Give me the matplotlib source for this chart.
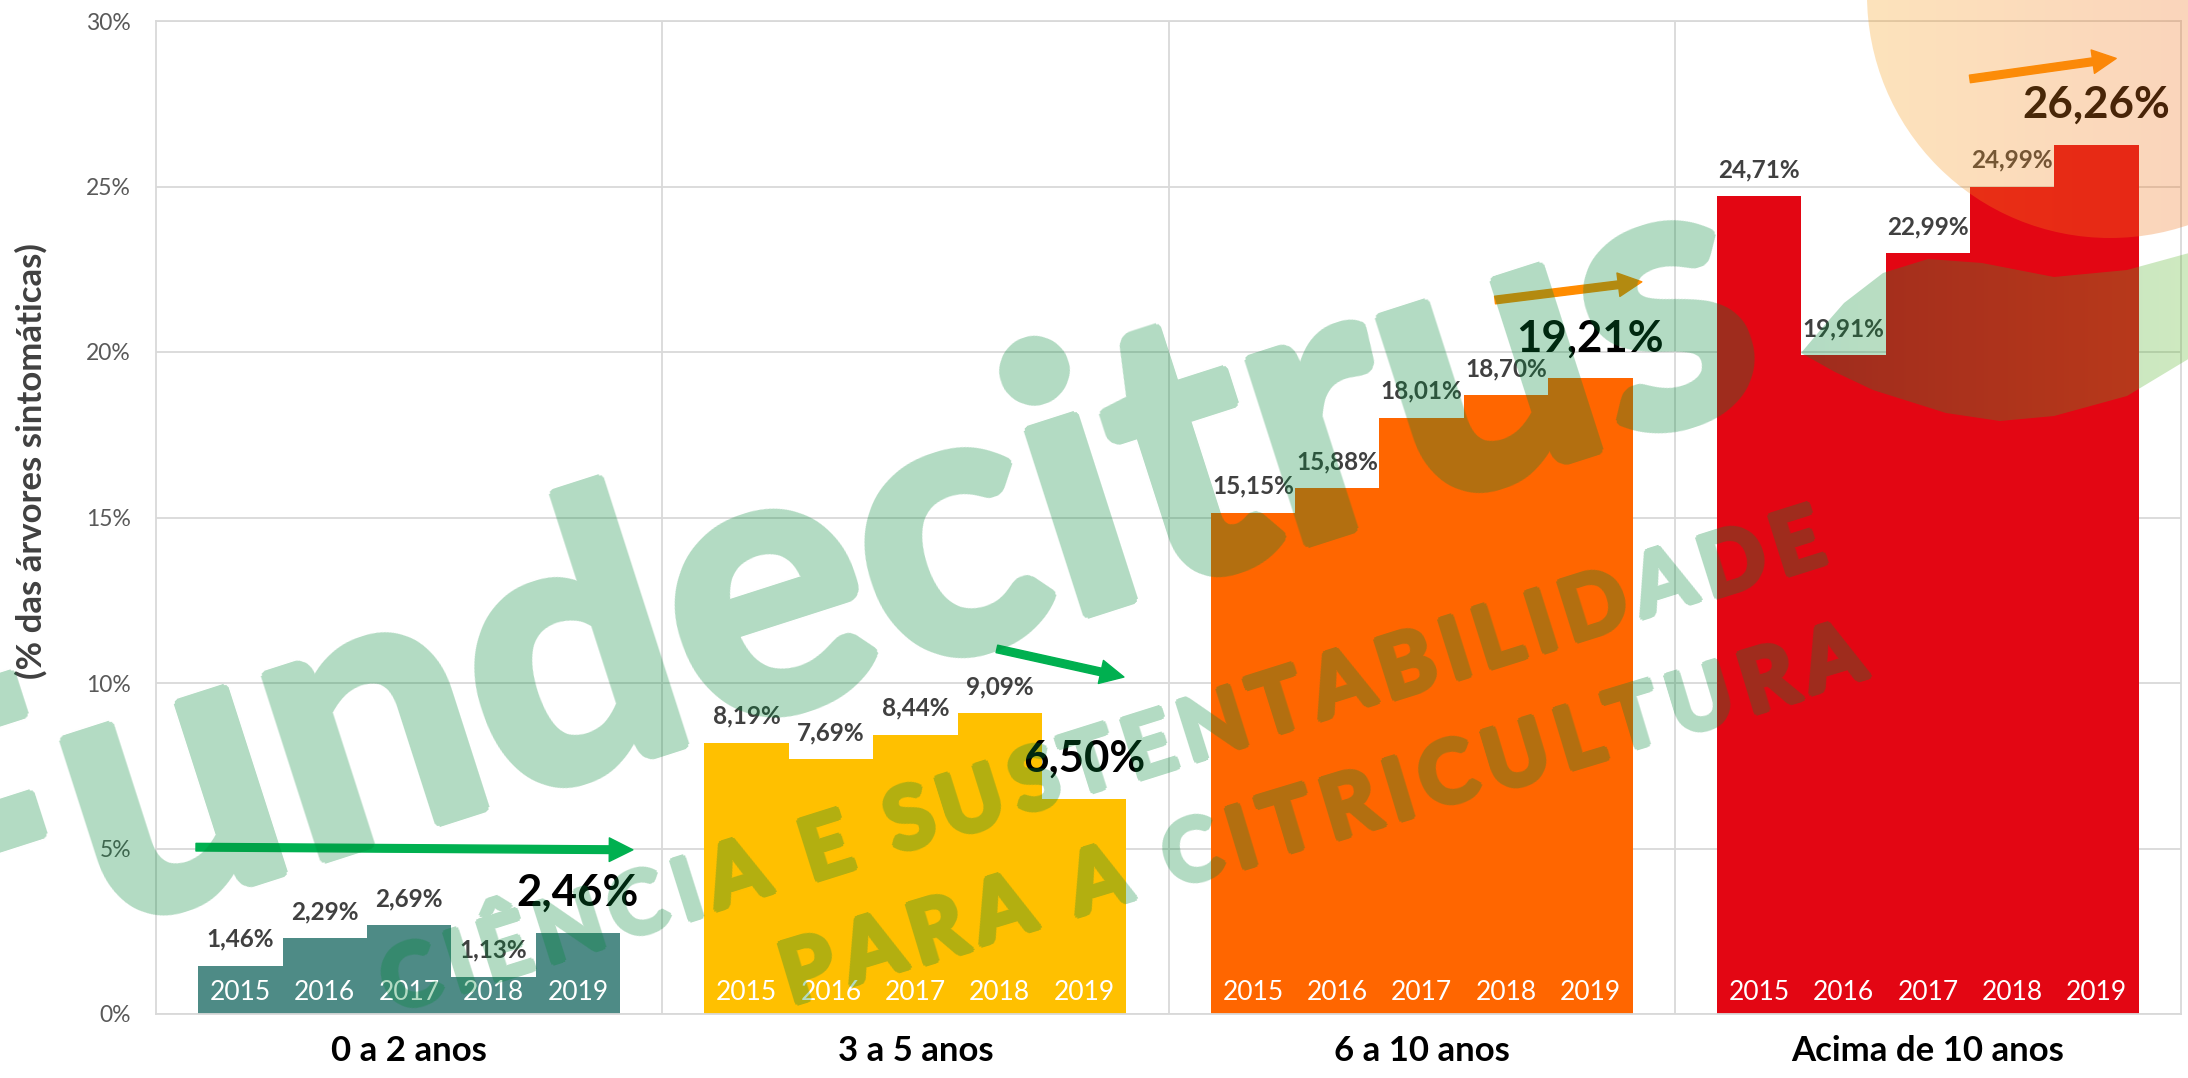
import numpy as np
import matplotlib
matplotlib.use("Agg")
import matplotlib.pyplot as plt
from matplotlib.patches import Circle, Polygon, FancyArrowPatch, ArrowStyle
from matplotlib.textpath import TextToPath
from matplotlib.font_manager import FontProperties

plt.rcParams['font.family'] = ['Lato', 'DejaVu Sans']

# --- DATA ---
age_groups = ["0 a 2 anos", "3 a 5 anos", "6 a 10 anos", "Acima de 10 anos"]
years = ["2015", "2016", "2017", "2018", "2019"]
pct_0_2 = [1.46, 2.29, 2.69, 1.13, 2.46]
pct_3_5 = [8.19, 7.69, 8.44, 9.09, 6.50]
pct_6_10 = [15.15, 15.88, 18.01, 18.70, 19.21]
pct_10_plus = [24.71, 19.91, 22.99, 24.99, 26.26]
group_values = [pct_0_2, pct_3_5, pct_6_10, pct_10_plus]
group_colors = ["#4E8B86", "#FFC000", "#FF6600", "#E30613"]

# trend arrows (start, tip) in data coords
trend_arrows = [
    ((0.079, 5.04), (0.942, 4.96), "#00B050"),
    ((1.661, 11.03), (1.912, 10.18), "#00B050"),
    ((2.645, 21.57), (2.935, 22.12), "#FF8C00"),
    ((3.583, 28.25), (3.872, 28.87), "#FF8C00"),
]

W, H = 2188, 1078
fig = plt.figure(figsize=(W / 100, H / 100), dpi=100)
fig.patch.set_facecolor('white')
ax = fig.add_axes([156 / W, 64 / H, 2025 / W, 993 / H])

grid_c = '#D9D9D9'
bw = 1 / 6
for g, vals in enumerate(group_values):
    xs = [g + 0.5 + (j - 2) * bw for j in range(len(vals))]
    ax.bar(xs, vals, width=bw, color=group_colors[g], edgecolor='none', zorder=2)
    for j, (x, v) in enumerate(zip(xs, vals)):
        lab = f"{v:.2f}".replace('.', ',') + '%'
        if j == len(vals) - 1:
            ax.annotate(lab, (x, v), xytext=(0, 19.4), textcoords='offset points',
                        ha='center', va='baseline', fontsize=31.5, fontweight='bold',
                        color='black', zorder=4)
        else:
            ax.annotate(lab, (x, v), xytext=(0, 13.7), textcoords='offset points',
                        ha='center', va='baseline', fontsize=17.5, fontweight='bold',
                        color='#404040', zorder=4)
        ax.text(x, 0.65, years[j], ha='center', va='center', fontsize=19,
                color='white', zorder=4)

for (x0, y0), (x1, y1), col in trend_arrows:
    arr = FancyArrowPatch((x0, y0), (x1, y1),
                          arrowstyle=ArrowStyle.Simple(head_length=17, head_width=17, tail_width=5.5),
                          mutation_scale=1, color=col, shrinkA=0, shrinkB=0, zorder=5)
    ax.add_patch(arr)

ax.set_xlim(0, 4)
ax.set_ylim(0, 30)
ax.set_yticks(np.arange(0, 31, 5))
ax.set_yticklabels([f"{t}%" for t in range(0, 31, 5)])
ax.set_xticks([0.5, 1.5, 2.5, 3.5])
ax.set_xticklabels(age_groups, fontsize=25, fontweight='bold', color='black')
ax.set_xticks([1, 2, 3], minor=True)
ax.tick_params(axis='y', length=0, pad=18, labelsize=16.5, labelcolor='#595959')
ax.tick_params(axis='x', which='both', length=0, pad=15)
ax.grid(axis='y', color=grid_c, lw=1.3, zorder=0)
ax.grid(axis='x', which='minor', color=grid_c, lw=1.3, zorder=0)
for s in ax.spines.values():
    s.set_color(grid_c)
    s.set_linewidth(1.3)
ax.set_axisbelow(True)

fig.text(31 / W, 1 - 461 / H, "(% das árvores sintomáticas)", rotation=90,
         ha='center', va='center', fontsize=25, fontweight='bold', color='#404040')

# --- WATERMARK OVERLAY (pixel coords) ---
ov = fig.add_axes([0, 0, 1, 1], zorder=10)
ov.set_xlim(0, W)
ov.set_ylim(H, 0)
ov.axis('off')
ov.patch.set_alpha(0)

green = (0 / 255, 135 / 255, 55 / 255)
wm_alpha = 0.3


def bolden(r):
    # thicken glyphs and apply group transparency
    def f(im, dpi):
        a = np.pad(im[..., 3], r)
        hh, ww = a.shape
        out = np.zeros_like(a)
        for dy in range(-r, r + 1):
            for dx in range(-r, r + 1):
                if dx * dx + dy * dy <= r * r:
                    sh = np.roll(np.roll(a, dy, axis=0), dx, axis=1)
                    np.maximum(out, sh, out=out)
        new = np.zeros((hh, ww, 4))
        new[..., :3] = green
        new[..., 3] = out * wm_alpha
        return new, -r, -r
    return f


wm = ov.text(838, 684, "Fundecitrus", fontsize=268, fontweight='bold',
             color=green, rotation=17.8, rotation_mode='anchor',
             ha='center', va='baseline')
wm.set_agg_filter(bolden(6))

# tagline with letter spacing, fitted between two baseline points
ttp = TextToPath()
def spaced_line(s, start_xy, end_xy, size):
    prop = FontProperties(family='Lato', weight='bold', size=size)
    adv = []
    for ch in s:
        if ch == ' ':
            adv.append(0.22 * size * 100 / 72)
        else:
            w, h, d = ttp.get_text_width_height_descent(ch, prop, ismath=False)
            adv.append(w * 100 / 72)
    p0 = np.array(start_xy, dtype=float)
    p1 = np.array(end_xy, dtype=float)
    length = np.hypot(*(p1 - p0))
    u = (p1 - p0) / length
    angle = np.degrees(np.arctan2(-u[1], u[0]))
    tracking = (length - sum(adv)) / (len(s) - 1)
    pos = 0
    for ch, w in zip(s, adv):
        c = p0 + (pos + w / 2) * u
        if ch != ' ':
            t_ = ov.text(c[0], c[1], ch, fontproperties=prop, color=green,
                         rotation=angle, rotation_mode='anchor', ha='center', va='baseline')
            t_.set_agg_filter(bolden(3))
        pos += w + tracking

spaced_line("CIÊNCIA E SUSTENTABILIDADE", (392, 1012), (1828, 560), 62)
spaced_line("PARA A CITRICULTURA", (790, 1003), (1869, 677), 62)

# orange sun
cx, cy, r = 2110, -5, 243
circ = Circle((cx, cy), r, facecolor='none', edgecolor='none')
ov.add_patch(circ)
t = np.linspace(0, 1, 256)
c0 = np.array([249, 161, 27]) / 255
c1 = np.array([236, 90, 30]) / 255
img = np.zeros((1, 256, 4))
img[0, :, :3] = c0[None, :] * (1 - t[:, None]) + c1[None, :] * t[:, None]
img[0, :, 3] = 0.3
im = ov.imshow(img, extent=(cx - r, cx + r, cy + r, cy - r), aspect='auto',
               interpolation='bilinear', zorder=3)
im.set_clip_path(circ)

# green swoosh
swoosh_pts = [(1801, 353), (1823, 327), (1844, 303), (1883, 273), (1928, 259),
              (1982, 263), (2054, 277), (2127, 270), (2200, 250),
              (2200, 352), (2127, 396), (2054, 416), (2000, 421), (1946, 413),
              (1873, 390), (1835, 372)]
sw = Polygon(swoosh_pts, closed=True, facecolor='none', edgecolor='none')
ov.add_patch(sw)
g0 = np.array(green)
g1 = np.array([98, 185, 45]) / 255
img2 = np.zeros((1, 256, 4))
img2[0, :, :3] = g0[None, :] * (1 - t[:, None]) + g1[None, :] * t[:, None]
img2[0, :, 3] = wm_alpha
im2 = ov.imshow(img2, extent=(1800, 2200, 430, 240), aspect='auto',
                interpolation='bilinear', zorder=3)
im2.set_clip_path(sw)

ov.set_xlim(0, W)
ov.set_ylim(H, 0)

fig.savefig("out.png", dpi=100)
